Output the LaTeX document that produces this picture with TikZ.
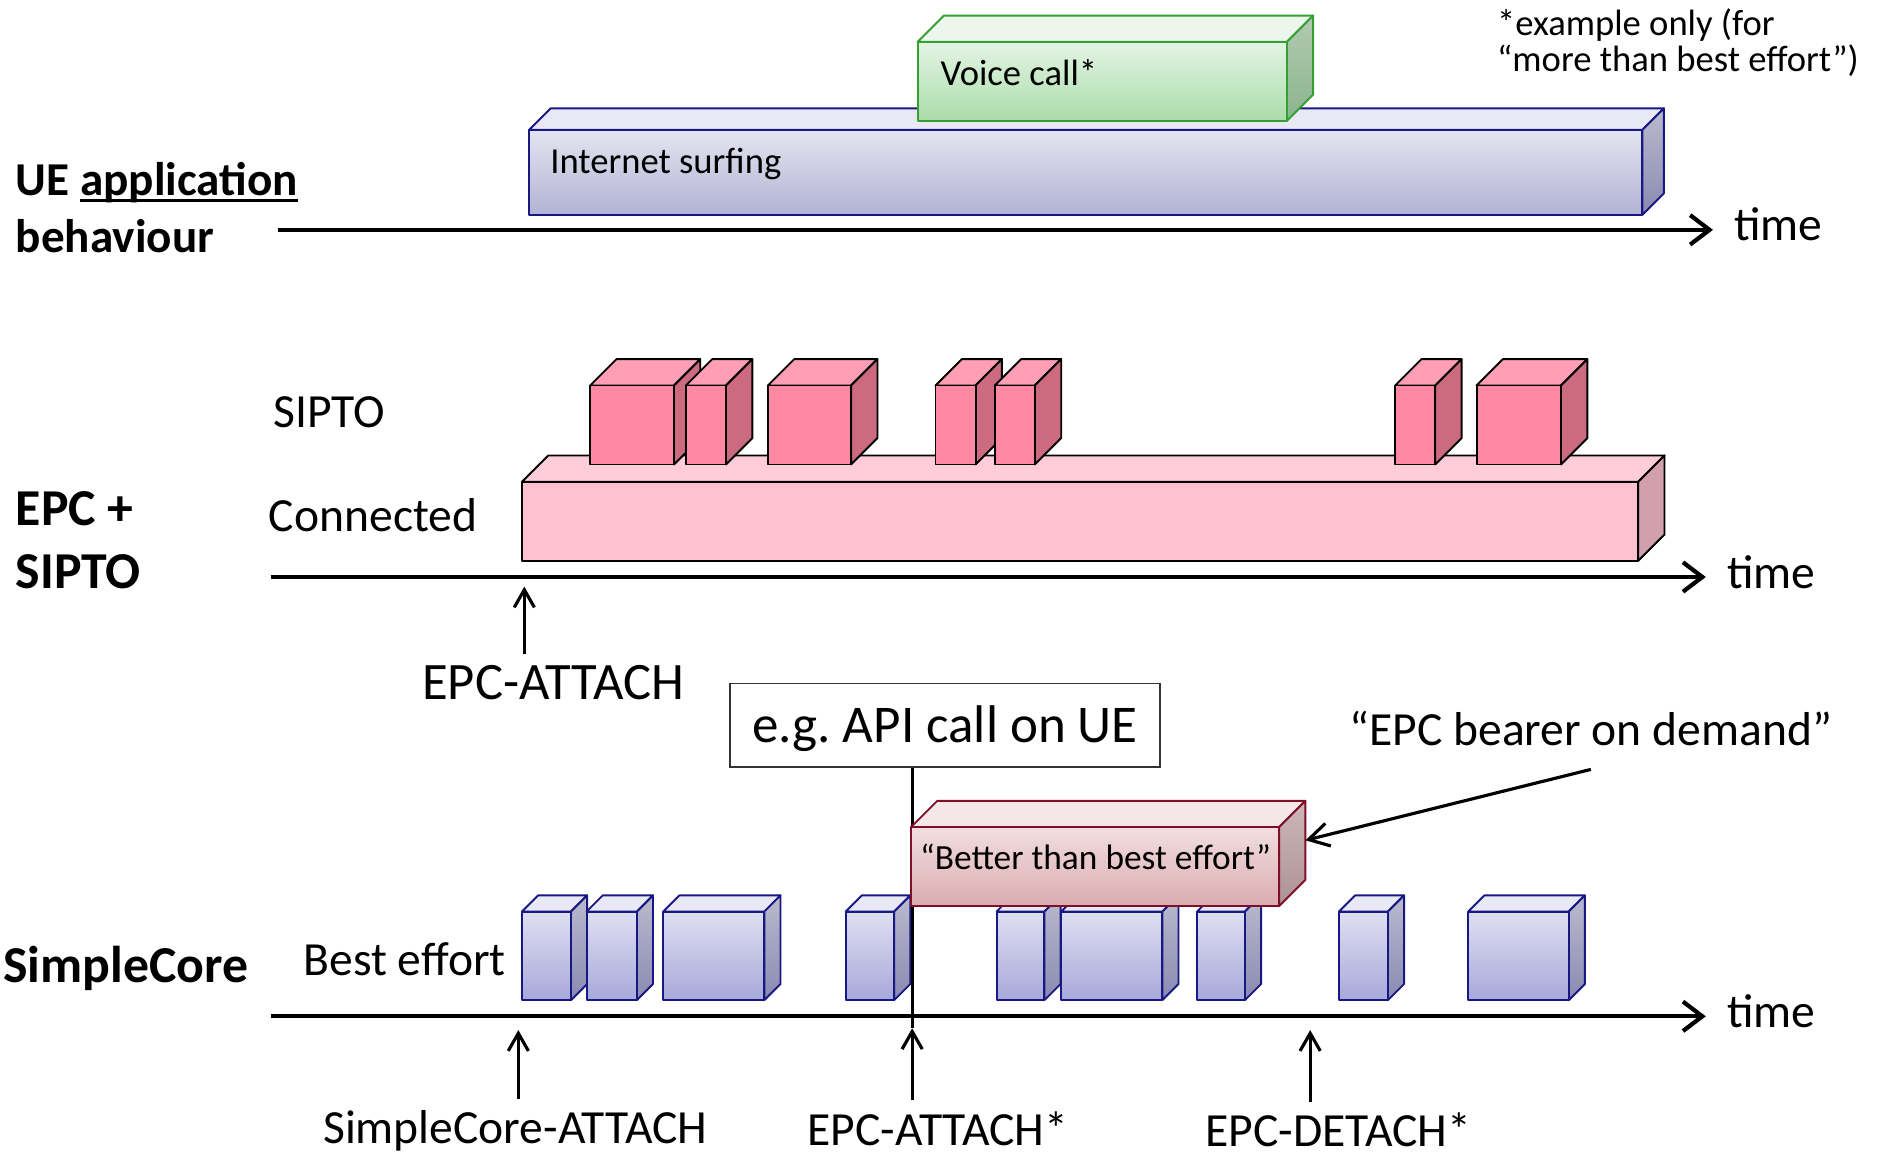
\documentclass[tikz,border=0pt]{standalone}
\usepackage{fontspec}
\setmainfont{Carlito}
\usetikzlibrary{arrows.meta}

% box colours
\definecolor{navyline}{RGB}{24,24,132}
\definecolor{bluetop}{RGB}{233,233,246}
\definecolor{bluefrontA}{RGB}{223,223,241}
\definecolor{bluefrontB}{RGB}{168,168,219}
\definecolor{bluesideA}{RGB}{186,186,206}
\definecolor{bluesideB}{RGB}{138,138,178}
\definecolor{surffrontA}{RGB}{228,228,240}
\definecolor{surffrontB}{RGB}{178,178,212}
\definecolor{greenline}{RGB}{52,160,52}
\definecolor{greentop}{RGB}{236,246,236}
\definecolor{greenfrontA}{RGB}{228,244,228}
\definecolor{greenfrontB}{RGB}{170,220,170}
\definecolor{greensideA}{RGB}{178,202,178}
\definecolor{greensideB}{RGB}{140,180,140}
\definecolor{redline}{RGB}{128,14,40}
\definecolor{redtop}{RGB}{245,230,232}
\definecolor{redfrontA}{RGB}{242,222,224}
\definecolor{redfrontB}{RGB}{218,172,176}
\definecolor{redsideA}{RGB}{206,182,184}
\definecolor{redsideB}{RGB}{172,146,150}
\definecolor{siptofront}{RGB}{255,136,162}
\definecolor{siptotop}{RGB}{255,158,181}
\definecolor{siptoside}{RGB}{204,107,128}
\definecolor{connfront}{RGB}{255,193,207}
\definecolor{conntop}{RGB}{255,204,217}
\definecolor{connside}{RGB}{210,160,172}

% 3D block: name, look, x left, x right, y top, y bottom, depth
\newcommand{\cuboid}[7]{%
  \path[#2 top] (#3,#5) -- (#3+#7,#5-#7) -- (#4+#7,#5-#7) -- (#4,#5) -- cycle;
  \path[#2 side] (#4,#5) -- (#4+#7,#5-#7) -- (#4+#7,#6-#7) -- (#4,#6) -- cycle;
  \path[#2 front] (#3,#5) rectangle (#4,#6);
  \coordinate (#1-east) at (#4+#7,0.5*#5+0.5*#6-#7);
}
\newcommand{\lineunder}[1]{\setbox0\hbox{#1}\rlap{\rule[-1.6pt]{\wd0}{0.65pt}}#1}

\begin{document}
\begin{tikzpicture}[x=0.01cm, y=-0.01cm]
    \tikzstyle{plain text}=[inner sep=0pt, font=\fontsize{11.3}{13}\selectfont]
    \tikzstyle{row title}=[inner sep=0pt, anchor=base west, font=\bfseries\fontsize{12.3}{14}\selectfont]
    \tikzstyle{box text}=[inner sep=0pt, anchor=base west, font=\fontsize{8.7}{10}\selectfont]
    \tikzstyle{time axis}=[-{Straight Barb[length=4.6pt,width=7pt]}, line width=1pt]
    \tikzstyle{event arrow}=[-{Straight Barb[length=4.2pt,width=4.8pt]}, line width=0.75pt, shorten <=2.5pt]
    \tikzstyle{edge box}=[line width=0.45pt, line join=round]
    \tikzstyle{best top}=[edge box, draw=navyline, fill=bluetop]
    \tikzstyle{best side}=[edge box, draw=navyline, top color=bluesideA, bottom color=bluesideB]
    \tikzstyle{best front}=[edge box, draw=navyline, top color=bluefrontA, bottom color=bluefrontB]
    \tikzstyle{surf top}=[best top]
    \tikzstyle{surf side}=[best side]
    \tikzstyle{surf front}=[edge box, draw=navyline, top color=surffrontA, bottom color=surffrontB]
    \tikzstyle{voice top}=[edge box, draw=greenline, fill=greentop]
    \tikzstyle{voice side}=[edge box, draw=greenline, top color=greensideA, bottom color=greensideB]
    \tikzstyle{voice front}=[edge box, draw=greenline, top color=greenfrontA, bottom color=greenfrontB]
    \tikzstyle{better top}=[edge box, draw=redline, fill=redtop]
    \tikzstyle{better side}=[edge box, draw=redline, top color=redsideA, bottom color=redsideB]
    \tikzstyle{better front}=[edge box, draw=redline, top color=redfrontA, bottom color=redfrontB]
    \tikzstyle{sipto top}=[edge box, draw=black, fill=siptotop]
    \tikzstyle{sipto side}=[edge box, draw=black, fill=siptoside]
    \tikzstyle{sipto front}=[edge box, draw=black, fill=siptofront]
    \tikzstyle{conn top}=[edge box, draw=black, fill=conntop]
    \tikzstyle{conn side}=[edge box, draw=black, fill=connside]
    \tikzstyle{conn front}=[edge box, draw=black, fill=connfront]

    \useasboundingbox (0,0) rectangle (1568,963);

    % UE application behaviour
    \node[row title, font=\bfseries\fontsize{11.2}{13}\selectfont] (ue-1) at (12.5,163) {UE \lineunder{application}};
    \node[row title, font=\bfseries\fontsize{11.2}{13}\selectfont] (ue-2) at (12.5,211) {behaviour};
    \cuboid{surf}{surf}{442}{1372}{108.5}{179.5}{18}
    \cuboid{voice}{voice}{766.5}{1075}{35}{101}{22}
    \node[box text] (surf-text) at (459,145) {Internet surfing};
    \node[box text] (voice-text) at (785,71) {Voice call*};
    \node[box text] (note-1) at (1250,30) {*example only (for};
    \node[box text] (note-2) at (1250,60) {“more than best effort”)};
    \coordinate (ax1-start) at (232,192);
    \coordinate (ax1-end) at (1431,192);
    \draw[time axis] (ax1-start) -- (ax1-end);
    \node[plain text, anchor=base west] (time-1) at (1448,201) {time};

    % EPC + SIPTO
    \node[row title] (epc-1) at (12.5,439) {EPC +};
    \node[row title] (epc-2) at (12.5,491.5) {SIPTO};
    \node[plain text, anchor=base west] (sipto-lbl) at (228,357) {SIPTO};
    \node[plain text, anchor=base west] (conn-lbl) at (224,444) {Connected};
    \cuboid{conn}{conn}{436}{1368.5}{402.5}{468.5}{22}
    \foreach \i/\xa/\xb in {1/493/563, 2/573/606.5, 3/641.5/711, 4/781.5/815,
                            5/831/864.5, 6/1165.5/1199, 7/1233.5/1304}
        {\cuboid{sipto-\i}{sipto}{\xa}{\xb}{322}{388}{22}}
    \coordinate (ax2-start) at (226,482);
    \coordinate (ax2-end) at (1425,482);
    \draw[time axis] (ax2-start) -- (ax2-end);
    \node[plain text, anchor=base west] (time-2) at (1442,492) {time};
    \node[plain text, anchor=base west, font=\fontsize{12.5}{14}\selectfont] (attach-lbl) at (352,584) {EPC-ATTACH};
    \coordinate (attach-tip) at (438,490);
    \draw[event arrow] (attach-lbl.north -| attach-tip) -- (attach-tip);

    % SimpleCore
    \node[row title] (sc) at (2,820.5) {SimpleCore};
    \node[plain text, anchor=base west] (best-lbl) at (253,814.5) {Best effort};
    \foreach \i/\xa/\xb in {1/436/477, 2/490/532, 3/554/638.5, 4/706.5/747, 5/832.5/872.5,
                            6/886.5/971, 7/1000/1040, 8/1118.5/1159.5, 9/1226.5/1310.5}
        {\cuboid{be-\i}{best}{\xa}{\xb}{761.5}{835.5}{13.5}}
    \coordinate (ax3-start) at (226,849);
    \coordinate (ax3-end) at (1425,849);
    \draw[time axis] (ax3-start) -- (ax3-end);
    \node[plain text, anchor=base west] (time-3) at (1442,858) {time};

    % API call and bearer on demand
    \node[draw=black!80, line width=0.45pt, fill=white, minimum width=3.595cm, minimum height=0.70cm,
          inner sep=0pt, text height=0.31cm, text depth=0.02cm,
          font=\fontsize{12.6}{14}\selectfont] (api) at (789.5,606) {e.g.\ API call on UE};
    \coordinate (epc-tip) at (762,859);
    \draw[line width=0.75pt] (api.south -| epc-tip) -- (epc-tip);
    \cuboid{better}{better}{761}{1068.5}{691}{757}{22}
    \node[box text, font=\fontsize{8.4}{10}\selectfont] (better-text) at (768,726) {“Better than best effort”};
    \node[plain text, anchor=base] (bearer) at (1329,622.4) {“EPC bearer on demand”};
    \draw[-{Straight Barb[length=4.8pt,width=5.5pt]}, line width=0.75pt] ([yshift=-5.5pt]bearer.south) -- (better-east);

    % events on the time line
    \node[plain text, anchor=base] (sc-attach) at (430.5,955) {SimpleCore-ATTACH};
    \node[plain text, anchor=base] (epc-attach) at (783.5,956.5) {EPC-ATTACH*};
    \node[plain text, anchor=base] (epc-detach) at (1118,958) {EPC-DETACH*};
    \coordinate (sc-tip) at (433,860.5);
    \coordinate (detach-tip) at (1094.5,860.5);
    \draw[event arrow] (sc-attach.north -| sc-tip) -- (sc-tip);
    \draw[event arrow] (epc-attach.north -| epc-tip) -- (epc-tip);
    \draw[event arrow] (epc-detach.north -| detach-tip) -- (detach-tip);
\end{tikzpicture}
\end{document}
